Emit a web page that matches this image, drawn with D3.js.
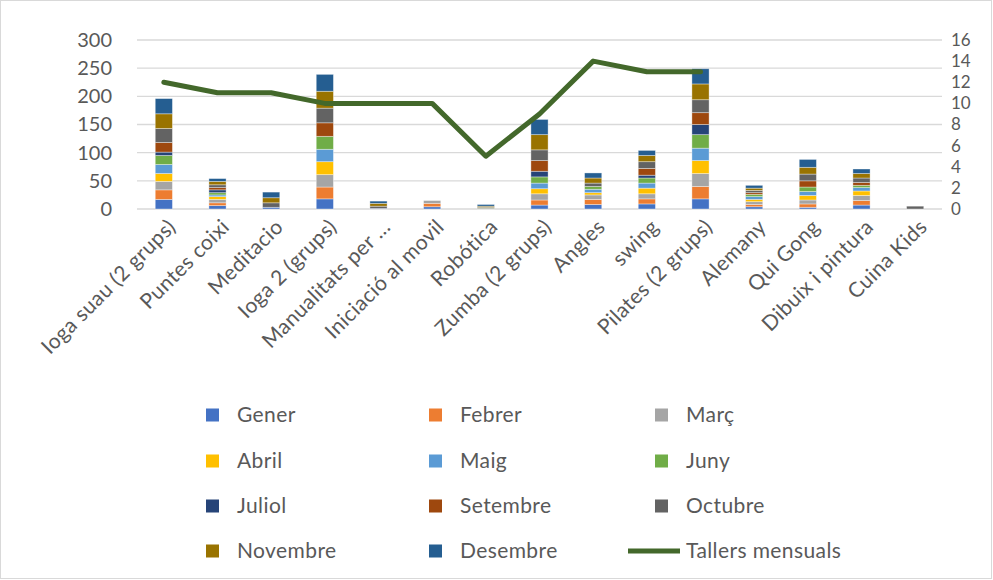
<!DOCTYPE html>
<html>
<head>
<meta charset="utf-8">
<script src="https://cdn.jsdelivr.net/npm/d3@7"></script>
<style>
  body { margin: 0; background: #fff; }
  text { font-family: Lato, "Liberation Sans", sans-serif; fill: #595959; }
</style>
</head>
<body>
<svg id="chart" width="993" height="580"></svg>
<script>
const categories = ["Ioga suau (2 grups)", "Puntes coixi", "Meditacio", "Ioga 2 (grups)", "Manualitats per ...",
  "Iniciació al movil", "Robótica", "Zumba (2 grups)", "Angles", "swing", "Pilates (2 grups)",
  "Alemany", "Qui Gong", "Dibuix i pintura", "Cuina Kids"];

const months = ["Gener", "Febrer", "Març", "Abril", "Maig", "Juny", "Juliol", "Setembre", "Octubre", "Novembre", "Desembre"];
const monthColors = ["#4472c4", "#ed7d31", "#a5a5a5", "#ffc000", "#5b9bd5", "#70ad47", "#264478", "#9e480e", "#636363", "#997300", "#255e91"];

// one array per month, one value per category
const gener    = [17, 6, 3, 18, 1, 4, 0, 7, 8, 9, 18, 4, 3, 7, 0];
const febrer   = [17, 5, 0, 21, 0, 6, 0, 9, 9, 9, 22, 4, 6, 8, 0];
const marc     = [15, 6, 0, 22, 0, 5, 0, 11, 8, 9, 23, 5, 7, 9, 0];
const abril    = [14, 5, 0, 23, 0, 0, 0, 9, 4, 10, 23, 4, 8, 8, 0];
const maig     = [16, 3, 0, 22, 0, 0, 0, 10, 6, 9, 22, 5, 7, 6, 0];
const juny     = [16, 4, 0, 23, 0, 0, 1, 11, 5, 9, 24, 4, 8, 4, 0];
const juliol   = [6, 5, 0, 0, 0, 0, 0, 10, 0, 5, 18, 0, 0, 0, 0];
const setembre = [17, 4, 0, 24, 0, 0, 0, 19, 0, 12, 21, 3, 11, 5, 0];
const octubre  = [25, 5, 8, 26, 4, 0, 2, 19, 6, 12, 23, 4, 12, 8, 5];
const novembre = [26, 6, 9, 30, 5, 0, 2, 27, 9, 11, 28, 4, 12, 8, 0];
const desembre = [27, 5, 10, 30, 4, 0, 3, 27, 9, 9, 27, 5, 14, 8, 0];

const tallersMensuals = [12, 11, 11, 10, 10, 10, 5, 9, 14, 13, 13];

const leftTicks = [0, 50, 100, 150, 200, 250, 300];
const rightTicks = [0, 2, 4, 6, 8, 10, 12, 14, 16];

const series = [gener, febrer, marc, abril, maig, juny, juliol, setembre, octubre, novembre, desembre];
const rows = categories.map((c, i) =>
{
  const r = { cat: c };
  months.forEach((m, j) => { r[m] = series[j][i]; });
  return r;
});

const svg = d3.select("#chart");
const plotLeft = 137, plotRight = 942, plotTop = 40, plotBottom = 209;

// chart frame
svg.append("rect")
  .attr("x", 0.5).attr("y", 0.5).attr("width", 991).attr("height", 578)
  .attr("fill", "none").attr("stroke", "#d9d9d9");

const x = d3.scaleBand().domain(categories).range([plotLeft, plotRight]).paddingInner(0.68).paddingOuter(0.34);
const y = d3.scaleLinear().domain([0, 300]).range([plotBottom, plotTop]);
const y2 = d3.scaleLinear().domain([0, 16]).range([plotBottom, plotTop]);

// gridlines
svg.append("g").selectAll("line").data(leftTicks).join("line")
  .attr("x1", plotLeft).attr("x2", plotRight)
  .attr("y1", d => y(d)).attr("y2", d => y(d))
  .attr("stroke", "#d9d9d9").attr("stroke-width", 1.3);

// left axis
const yAxis = svg.append("g").attr("transform", `translate(${plotLeft},0)`)
  .call(d3.axisLeft(y).tickValues(leftTicks).tickSize(0).tickPadding(25));
yAxis.select(".domain").remove();
yAxis.selectAll("text").style("font-size", "20px").attr("fill", "#595959");

// right axis
const y2Axis = svg.append("g").attr("transform", `translate(${plotRight},0)`)
  .call(d3.axisRight(y2).tickValues(rightTicks).tickSize(0).tickPadding(9));
y2Axis.select(".domain").remove();
y2Axis.selectAll("text").style("font-size", "17px").attr("fill", "#595959");

// stacked bars
const stack = d3.stack().keys(months)(rows);
svg.append("g").selectAll("g").data(stack).join("g")
  .attr("fill", (d, i) => monthColors[i])
  .selectAll("rect").data(d => d).join("rect")
  .attr("x", d => x(d.data.cat))
  .attr("width", x.bandwidth())
  .attr("y", d => y(d[1]))
  .attr("height", d => y(d[0]) - y(d[1]))
  .attr("stroke", "#ffffff").attr("stroke-opacity", 0.45).attr("stroke-width", 0.8);

// line
const line = d3.line()
  .x((d, i) => x(categories[i]) + x.bandwidth() / 2)
  .y(d => y2(d));
svg.append("path").datum(tallersMensuals)
  .attr("d", line)
  .attr("fill", "none")
  .attr("stroke", "#43682b")
  .attr("stroke-width", 5)
  .attr("stroke-linejoin", "round")
  .attr("stroke-linecap", "round");

// x labels
svg.append("g").selectAll("text").data(categories).join("text")
  .attr("transform", d => `translate(${x(d) + x.bandwidth() / 2 + 8},${plotBottom + 14}) rotate(-45)`)
  .attr("text-anchor", "end")
  .attr("dy", "0.35em")
  .style("font-size", "21px")
  .style("letter-spacing", "0.4px")
  .text(d => d);

// legend
const legendItems = months.map((m, i) => ({ name: m, color: monthColors[i], type: "rect" }));
legendItems.push({ name: "Tallers mensuals", color: "#43682b", type: "line" });
const colX = [237, 460, 686];
const rowY = [415, 461, 506, 551];

const legend = svg.append("g").selectAll("g").data(legendItems).join("g")
  .attr("transform", (d, i) => `translate(${colX[i % 3]},${rowY[Math.floor(i / 3)]})`);

legend.filter(d => d.type === "rect").append("rect")
  .attr("x", -31).attr("y", -6.5).attr("width", 13).attr("height", 13)
  .attr("fill", d => d.color);
legend.filter(d => d.type === "line").append("line")
  .attr("x1", -58).attr("x2", -6).attr("y1", 0).attr("y2", 0)
  .attr("stroke", d => d.color).attr("stroke-width", 5);
legend.append("text")
  .attr("dy", "0.35em")
  .style("font-size", "21px")
  .style("letter-spacing", "0.4px")
  .text(d => d.name);
</script>
</body>
</html>
